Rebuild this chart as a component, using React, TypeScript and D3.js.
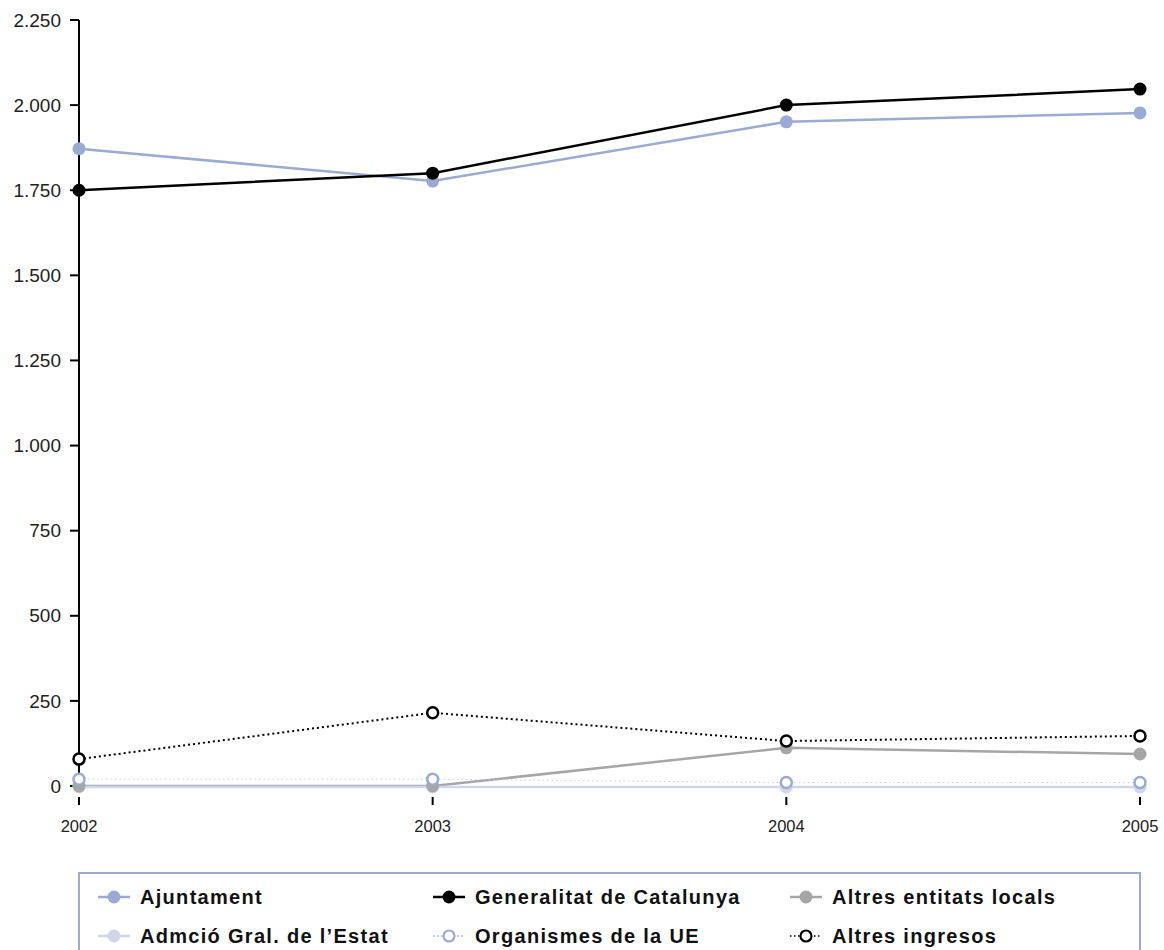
import React from "react";
import * as d3 from "d3";

const years = ["2002", "2003", "2004", "2005"];
const ajuntament = [1872, 1777, 1951, 1977];
const generalitat = [1750, 1800, 2000, 2047];
const altresEntitats = [0, 0, 112, 94];
const admcioEstat = [-3, -3, -3, -3];
const organismesUE = [20, 20, 10, 10];
const altresIngresos = [79, 215, 132, 147];
const yTicks = [0, 250, 500, 750, 1000, 1250, 1500, 1750, 2000, 2250];

type Series = {
  name: string;
  values: number[];
  color: string;
  marker: string;
  dash?: string;
  open?: boolean;
  width: number;
};

const ADM = "Admció Gral. de l\u2019Estat";
const ALE = "Altres entitats locals";
const UE = "Organismes de la UE";
const ALI = "Altres ingresos";
const AJ = "Ajuntament";
const GEN = "Generalitat de Catalunya";

const series: Series[] = [
  { name: AJ, values: ajuntament, color: "#9aaad2", marker: "#9aaad2", width: 2.5 },
  { name: GEN, values: generalitat, color: "#000000", marker: "#000000", width: 2.5 },
  { name: ALE, values: altresEntitats, color: "#a6a6a6", marker: "#a6a6a6", width: 2.5 },
  { name: ADM, values: admcioEstat, color: "#d0d6ea", marker: "#d0d6ea", width: 2.5 },
  { name: UE, values: organismesUE, color: "#c5cde6", marker: "#9aaad2", dash: "1.5,3", open: true, width: 1 },
  { name: ALI, values: altresIngresos, color: "#000000", marker: "#000000", dash: "2,3", open: true, width: 2 },
];

const lineOrder = [ALE, UE, ADM, ALI, AJ, GEN];
const markerOrder = [ADM, ALE, UE, ALI, AJ, GEN];

const locale = d3.formatLocale({ decimal: ",", thousands: ".", grouping: [3], currency: ["", "€"] });
const fmt = locale.format(",d");

export default function App() {
  const W = 1164, H = 950;
  const x = d3.scalePoint<string>().domain(years).range([79, 1140]);
  const y = d3.scaleLinear().domain([0, 2250]).range([786, 20]);
  const line = d3.line<number>().x((_, i) => x(years[i])!).y((d) => y(d));
  const font = "Arial, 'Liberation Sans', Helvetica, sans-serif";
  const byName = (n: string) => series.find((s) => s.name === n)!;

  const legX = [100, 435, 792];
  const legY = [897, 936];

  return (
    <svg width={W} height={H} style={{ position: "absolute", left: 0, top: 0, background: "#fff" }} fontFamily={font}>
      {/* y axis */}
      <line x1={79} x2={79} y1={y(2250)} y2={y(0) + 1} stroke="#000" strokeWidth={2} />
      {yTicks.map((t) => (
        <g key={t}>
          <line x1={70} x2={79} y1={y(t)} y2={y(t)} stroke="#000" strokeWidth={2} />
          <text x={61} y={y(t)} dy="0.35em" textAnchor="end" fontSize={19} fill="#222">
            {fmt(t)}
          </text>
        </g>
      ))}
      {/* x axis ticks */}
      {years.map((yr) => (
        <g key={yr}>
          <line x1={x(yr)} x2={x(yr)} y1={797} y2={805} stroke="#000" strokeWidth={2} />
          <text x={x(yr)} y={832} textAnchor="middle" fontSize={16.5} fill="#222">
            {yr}
          </text>
        </g>
      ))}
      {/* series lines */}
      {lineOrder.map((n) => {
        const s = byName(n);
        return (
          <path key={n} d={line(s.values)!} fill="none" stroke={s.color} strokeWidth={s.width} strokeDasharray={s.dash} />
        );
      })}
      {/* series markers */}
      {markerOrder.map((n) => {
        const s = byName(n);
        return (
          <g key={n}>
            {s.values.map((v, i) => (
              <circle
                key={i}
                cx={x(years[i])}
                cy={y(v)}
                r={s.open ? 5.5 : 6.5}
                fill={s.open ? "#fff" : s.marker}
                stroke={s.open ? s.marker : "none"}
                strokeWidth={s.open ? 2.5 : 0}
              />
            ))}
          </g>
        );
      })}
      {/* legend */}
      <rect x={79} y={873} width={1061} height={90} fill="#fff" stroke="#9aaad2" strokeWidth={2} />
      {series.map((s, k) => {
        const cx = legX[k % 3];
        const cy = legY[Math.floor(k / 3)];
        return (
          <g key={s.name}>
            <line
              x1={cx - 2}
              x2={cx + 30}
              y1={cy}
              y2={cy}
              stroke={s.marker}
              strokeWidth={s.open ? 1.5 : 2.5}
              strokeDasharray={s.open ? "1.5,2.5" : undefined}
            />
            <circle
              cx={cx + 14}
              cy={cy}
              r={s.open ? 5.5 : 6.5}
              fill={s.open ? "#fff" : s.marker}
              stroke={s.open ? s.marker : "none"}
              strokeWidth={s.open ? 2.2 : 0}
            />
            <text x={cx + 40} y={cy} dy="0.35em" fontSize={20} letterSpacing={1.3} fontWeight="bold" fill="#111">
              {s.name}
            </text>
          </g>
        );
      })}
    </svg>
  );
}
